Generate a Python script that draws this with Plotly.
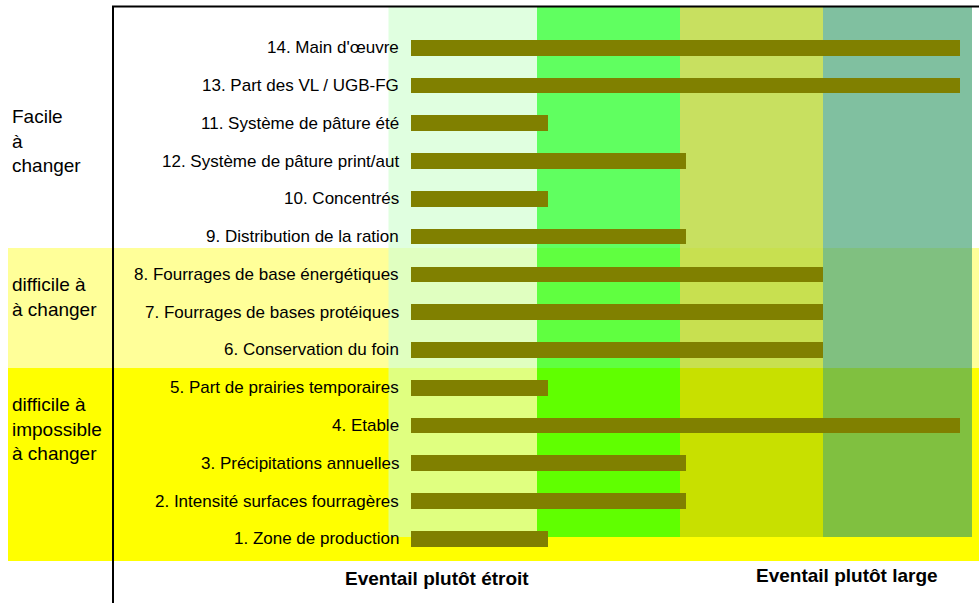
import plotly.graph_objects as go

# ---- data (top to bottom as shown) ----
labels = [
    "14. Main d'œuvre",
    "13. Part des VL / UGB-FG",
    "11. Système de pâture été",
    "12. Système de pâture print/aut",
    "10. Concentrés",
    "9. Distribution de la ration",
    "8. Fourrages de base énergétiques",
    "7. Fourrages de bases protéiques",
    "6. Conservation du foin",
    "5. Part de prairies temporaires",
    "4. Etable",
    "3. Précipitations annuelles",
    "2. Intensité surfaces fourragères",
    "1. Zone de production",
]
values = [4, 4, 1, 2, 1, 2, 3, 3, 3, 1, 4, 2, 2, 1]

group_labels = ["Facile<br>à<br>changer", "difficile à<br>à changer", "difficile à<br>impossible<br>à changer"]
axis_labels = ["Eventail plutôt étroit", "Eventail plutôt large"]

# ---- layout constants ----
W, H = 979, 603
FONT = "Liberation Sans, Arial, sans-serif"
BAR_COLOR = "#808000"

def px(x):
    return x / W

def py(y):
    return 1 - y / H

cats = labels[::-1]

fig = go.Figure()
fig.add_trace(go.Bar(
    x=values[::-1], y=cats, orientation="h",
    marker=dict(color=BAR_COLOR, line=dict(width=0)),
    width=0.415, showlegend=False, hoverinfo="skip",
))

shapes = []
# horizontal background bands
shapes.append(dict(type="rect", xref="paper", yref="paper", layer="below",
                   x0=px(8), x1=px(990), y0=py(248), y1=py(368),
                   fillcolor="#FFFF99", line=dict(width=0)))
shapes.append(dict(type="rect", xref="paper", yref="paper", layer="below",
                   x0=px(8), x1=px(990), y0=py(368), y1=py(561),
                   fillcolor="#FFFF00", line=dict(width=0)))

# vertical coloured bands (colour over white / pale yellow / yellow)
col_edges = [388.5, 537, 680, 823, 972]
col_colors = [
    ["#E0FFE0", "#E0FFC0", "#E0FF80"],
    ["#60FF60", "#60FF40", "#60FF00"],
    ["#C8E060", "#C8E050", "#C8E000"],
    ["#80C0A0", "#80C080", "#80C040"],
]
row_edges = [7, 248, 368, 537]
for i in range(4):
    for j in range(3):
        shapes.append(dict(type="rect", xref="paper", yref="paper", layer="below",
                           x0=px(col_edges[i]), x1=px(col_edges[i + 1]),
                           y0=py(row_edges[j]), y1=py(row_edges[j + 1]),
                           fillcolor=col_colors[i][j], line=dict(width=0)))

# frame lines
shapes.append(dict(type="line", xref="paper", yref="paper", layer="above",
                   x0=px(113), x1=px(113), y0=py(6), y1=py(620),
                   line=dict(color="black", width=2)))
shapes.append(dict(type="line", xref="paper", yref="paper", layer="above",
                   x0=px(112), x1=px(990), y0=py(6.5), y1=py(6.5),
                   line=dict(color="black", width=2)))

annotations = []
for lab in labels:
    annotations.append(dict(x=0, y=lab, xref="x", yref="y", text=lab,
                            xanchor="right", yanchor="middle", xshift=-10,
                            showarrow=False, font=dict(family=FONT, size=17, color="black")))

for txt, yc in zip(group_labels, [141, 297, 429]):
    annotations.append(dict(x=px(10), y=py(yc), xref="paper", yref="paper", text=txt,
                            xanchor="left", yanchor="middle", align="left",
                            showarrow=False, font=dict(family=FONT, size=19, color="black")))

for txt, xc, yc in zip(axis_labels, [436.5, 847], [578, 575]):
    annotations.append(dict(x=px(xc), y=py(yc), xref="paper", yref="paper",
                            text="<b>" + txt + "</b>",
                            xanchor="center", yanchor="middle",
                            showarrow=False, font=dict(family=FONT, size=19, color="black")))

# scale: screen px of value 0 and 1 unit; row centres
x0_px, unit = 411.0, 137.25
row0_px, row_step = 538.8, 37.77
fig.update_layout(
    width=W, height=H,
    margin=dict(l=0, r=0, t=0, b=0, pad=0),
    paper_bgcolor="white", plot_bgcolor="rgba(0,0,0,0)",
    xaxis=dict(range=[-x0_px / unit, (W - x0_px) / unit],
               visible=False, fixedrange=True),
    yaxis=dict(type="category", categoryorder="array", categoryarray=cats,
               range=[(row0_px - H) / row_step, row0_px / row_step],
               visible=False, fixedrange=True),
    shapes=shapes, annotations=annotations,
    bargap=0, showlegend=False,
)

fig.write_html("out.html", config={"displayModeBar": False},
               post_script="document.body.style.margin='0px';document.body.style.overflow='hidden';")
